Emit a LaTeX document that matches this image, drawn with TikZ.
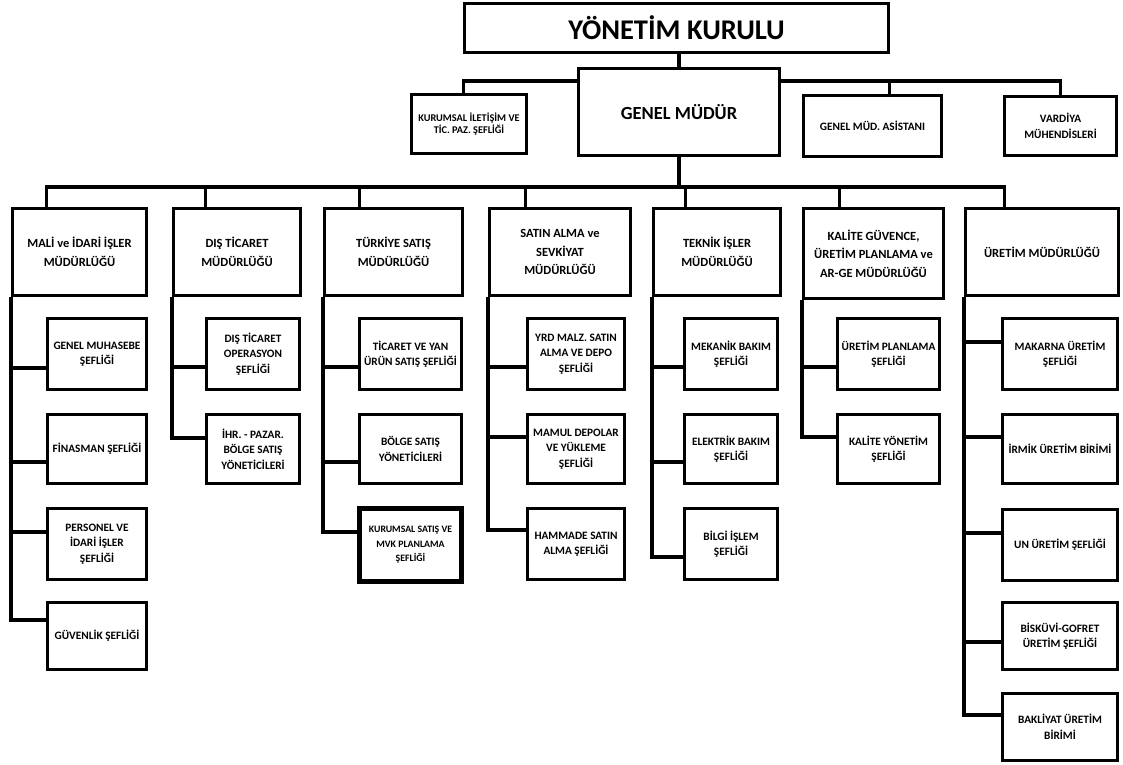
\documentclass[tikz,border=0pt]{standalone}
\usepackage{fontspec}
\setmainfont{Carlito}
\usetikzlibrary{positioning,calc}
\tikzset{
  kutu/.style 2 args={draw, line width=3.2pt, align=center, inner sep=1pt,
    minimum width=#1pt-3.2pt, minimum height=#2pt-3.2pt,
    font=\bfseries\fontsize{11.3}{15.5}\selectfont},
  mudur/.style={font=\bfseries\fontsize{12.5}{18.5}\selectfont},
  bag/.style={line width=3.2pt},
}
\begin{document}
\begin{tikzpicture}[x=1pt, y=-1pt]
\useasboundingbox (0,0) rectangle (1123,764);
% Ust kademe
\node[kutu={427}{52}, font=\bfseries\fontsize{28.5}{32}\selectfont] (yk) at (676.5,28) {YÖNETİM KURULU};
\node[kutu={204}{90}, font=\bfseries\fontsize{18.5}{22}\selectfont] (gm) at (679,112) {GENEL MÜDÜR};
\node[kutu={118}{62}, font=\bfseries\fontsize{10.3}{12.5}\selectfont] (kit) at (469,124) {KURUMSAL İLETİŞİM VE\\TİC. PAZ. ŞEFLİĞİ};
\node[kutu={141}{64}] (asst) at (872.5,126) {GENEL MÜD. ASİSTANI};
\node[kutu={115}{62}] (vard) at (1060.5,126) {VARDİYA\\MÜHENDİSLERİ};
% Mudurlukler
\node[kutu={137}{90}, mudur] (d1) at (79.5,252) {MALİ ve İDARİ İŞLER\\MÜDÜRLÜĞÜ};
\node[kutu={130}{90}, mudur] (d2) at (237,252) {DIŞ TİCARET\\MÜDÜRLÜĞÜ};
\node[kutu={141}{90}, mudur] (d3) at (393.5,252) {TÜRKİYE SATIŞ\\MÜDÜRLÜĞÜ};
\node[kutu={144}{90}, mudur] (d4) at (560,252) {SATIN ALMA ve\\SEVKİYAT\\MÜDÜRLÜĞÜ};
\node[kutu={130}{90}, mudur] (d5) at (717,252) {TEKNİK İŞLER\\MÜDÜRLÜĞÜ};
\node[kutu={143}{93}, mudur] (d6) at (873.5,253.5) {KALİTE GÜVENCE,\\ÜRETİM PLANLAMA ve\\AR-GE MÜDÜRLÜĞÜ};
\node[kutu={156}{90}, mudur] (d7) at (1042,252) {ÜRETİM MÜDÜRLÜĞÜ};
% Seflikler - mali ve idari isler
\node[kutu={102}{74}] (s11) at (97,354) {GENEL MUHASEBE\\ŞEFLİĞİ};
\node[kutu={102}{72}] (s12) at (97,449) {FİNASMAN ŞEFLİĞİ};
\node[kutu={102}{74}] (s13) at (97,544) {PERSONEL VE\\İDARİ İŞLER\\ŞEFLİĞİ};
\node[kutu={102}{70}] (s14) at (97,636) {GÜVENLİK ŞEFLİĞİ};
% dis ticaret
\node[kutu={96}{74}] (s21) at (253,354) {DIŞ TİCARET\\OPERASYON\\ŞEFLİĞİ};
\node[kutu={96}{72}] (s22) at (253,449) {İHR. - PAZAR.\\BÖLGE SATIŞ\\YÖNETİCİLERİ};
% turkiye satis
\node[kutu={105}{74}] (s31) at (410.5,354) {TİCARET VE YAN\\ÜRÜN SATIŞ ŞEFLİĞİ};
\node[kutu={105}{72}] (s32) at (410.5,449) {BÖLGE SATIŞ\\YÖNETİCİLERİ};
\node[kutu={105}{76}, line width=4.5pt, font=\bfseries\fontsize{9.8}{14.5}\selectfont] (s33) at (410.5,545) {KURUMSAL SATIŞ VE\\MVK PLANLAMA\\ŞEFLİĞİ};
% satin alma ve sevkiyat
\node[kutu={100}{74}] (s41) at (576,354) {YRD MALZ. SATIN\\ALMA VE DEPO\\ŞEFLİĞİ};
\node[kutu={100}{72}] (s42) at (576,449) {MAMUL DEPOLAR\\VE YÜKLEME\\ŞEFLİĞİ};
\node[kutu={100}{74}] (s43) at (576,544) {HAMMADE SATIN\\ALMA ŞEFLİĞİ};
% teknik isler
\node[kutu={96}{74}] (s51) at (731,354) {MEKANİK BAKIM\\ŞEFLİĞİ};
\node[kutu={96}{72}] (s52) at (731,449) {ELEKTRİK BAKIM\\ŞEFLİĞİ};
\node[kutu={96}{74}] (s53) at (731,544) {BİLGİ İŞLEM\\ŞEFLİĞİ};
% kalite guvence
\node[kutu={105}{74}] (s61) at (888.5,354) {ÜRETİM PLANLAMA\\ŞEFLİĞİ};
\node[kutu={105}{72}] (s62) at (888.5,449) {KALİTE YÖNETİM\\ŞEFLİĞİ};
% uretim
\node[kutu={118}{74}] (s71) at (1060,354) {MAKARNA ÜRETİM\\ŞEFLİĞİ};
\node[kutu={118}{72}] (s72) at (1060,449) {İRMİK ÜRETİM BİRİMİ};
\node[kutu={118}{74}] (s73) at (1060,545) {UN ÜRETİM ŞEFLİĞİ};
\node[kutu={118}{70}] (s74) at (1060,636) {BİSKÜVİ-GOFRET\\ÜRETİM ŞEFLİĞİ};
\node[kutu={118}{70}] (s75) at (1060,727) {BAKLİYAT ÜRETİM\\BİRİMİ};
% Baglantilar
\coordinate (ustbar) at (0,81);
\coordinate (altbar) at (0,187);
\draw[bag] (gm.north |- yk.south) -- (gm.north);
\draw[bag] (gm.west |- ustbar) -| ($(kit.north west)!.45!(kit.north east)$);
\draw[bag] (gm.east |- ustbar) -| ($(asst.north west)!.62!(asst.north east)$);
\draw[bag] (gm.east |- ustbar) -| (vard.north);
\draw[bag] (gm.south) -- (gm.south |- altbar);
\foreach \k in {1,...,7}
  \draw[bag] (gm.south |- altbar) -| ($(d\k.north west)!.26!(d\k.north east)$);
\foreach \alt/\k/\dy in {s11/1/-14, s12/1/-13, s13/1/12, s14/1/16,
    s21/2/-13, s22/2/11, s31/3/-13, s32/3/-13, s33/3/13,
    s41/4/-13, s42/4/12, s43/4/14, s51/5/-13, s52/5/-13, s53/5/-13,
    s61/6/-13, s62/6/12, s71/7/12, s72/7/12, s73/7/12, s74/7/-6, s75/7/12}
  \draw[bag] ([yshift=\dy pt]\alt.west) -| (d\k.south west);
\end{tikzpicture}
\end{document}
